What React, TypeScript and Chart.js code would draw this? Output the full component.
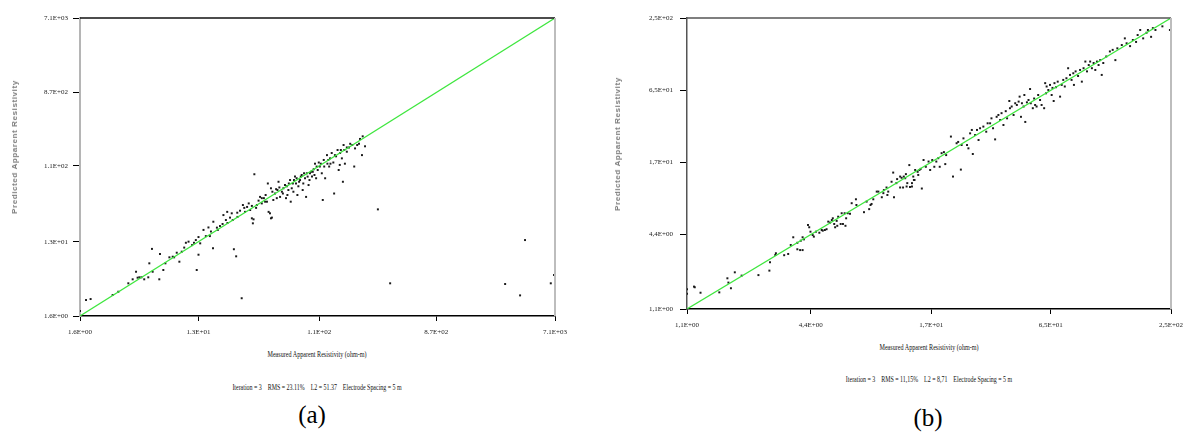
import React, { useEffect, useRef } from "react";
import { Chart, registerables } from "chart.js";
Chart.register(...registerables);

// ---------- Panel (a) ----------
const measuredA = [
  1.6, 1.78, 1.93, 2.85, 3.15, 3.76, 4.06, 4.31, 4.43, 4.57,
  4.74, 4.98, 5.35, 5.45, 5.71, 5.78, 6.5, 6.58, 6.98, 7.24,
  7.77, 8.24, 8.45, 8.85, 9.27, 9.67, 10.1, 10.4, 10.9, 12.6,
  13.0, 27.9,
  11.6, 12.4, 13.0, 12.0, 14.2, 14.8, 15.5, 16.2, 16.9, 16.8,
  18.0, 19.0, 19.9, 20.2, 21.1, 21.6, 22.7, 23.4, 24.3, 25.3,
  25.8, 27.1, 28.5, 29.2, 30.7, 31.6, 32.4, 33.4, 34.0, 34.4,
  34.9, 36.5, 37.6, 38.6, 39.8, 41.3, 42.6, 43.6, 44.3, 44.9,
  46.0, 46.8, 47.6, 48.8, 50.3, 51.9, 52.5, 53.5, 55.0, 56.8,
  58.3, 60.0, 61.1, 62.6, 64.2, 65.6, 66.4, 67.6, 69.6, 71.6,
  72.9, 74.7, 76, 78.3, 80.6, 82, 82.9, 85.5, 87.1, 88.2,
  91, 92.5, 95, 96.7, 99.6, 102, 104, 107, 109, 111,
  115, 117, 119, 122, 126, 127, 131, 133, 137, 141,
  143, 148, 152, 155, 158, 159, 164, 167, 169, 171,
  173, 179, 186, 190, 197, 204, 207, 215, 222, 234,
  237, 310,
  46.8, 48, 51.3, 54.3, 57.8, 61.9, 63.7, 68.9, 70.3, 73.7,
  77, 79.3, 84, 89.5, 93.3, 98, 101, 105, 113, 120,
  129, 134, 145, 161, 179, 39.8, 42.2, 36, 33.4, 29.6,
  25.9, 23.8, 21.7, 18.3, 15.9, 13.4,
  226, 247, 385, 2940, 3830, 4180, 6590, 6980,
];
const predictedA = [
  1.84, 2.51, 2.58, 2.89, 3.17, 4.02, 4.5, 5.57, 4.71, 4.76,
  4.76, 4.5, 4.76, 7.06, 10.6, 5.57, 4.5, 9.18, 5.85, 7.06,
  8.36, 8.51, 8.36, 9.52, 7.39, 9.8, 11.0, 12.6, 13.0, 5.85,
  9.0, 2.64,
  11.8, 13.6, 14.8, 12.6, 18.1, 15.2, 19.4, 17.3, 22.8, 10.8,
  19.3, 20.2, 21.4, 27.5, 23.9, 30.1, 25.6, 28.9, 10.5, 8.6,
  29.4, 31.1, 36.5, 33.7, 34.6, 38.2, 31.7, 25.1, 21.8, 24.4,
  86.9, 36.5, 41.3, 45.9, 38.2, 44.3, 48.4, 40.1, 67, 30.1,
  28.9, 25.1, 25.6, 42.1, 50.5, 44.3, 55.7, 70.3, 45.9, 53.1,
  58.5, 64.1, 44.3, 48.4, 67, 73.8, 40.1, 58.5, 53.1, 81.3,
  67, 48.4, 61.9, 73.8, 85.1, 55.7, 67, 77.6, 45.9, 89.3,
  64.1, 73.8, 93.1, 81.3, 100, 117, 77.6, 97.9, 121, 108,
  89.3, 42.1, 130, 77.6, 149, 117, 108, 136, 158, 121,
  50.5, 144, 172, 97.9, 113, 158, 136, 70.3, 198, 172,
  117, 164, 185, 205, 198, 108, 180, 198, 205, 149,
  253, 32.3,
  58.5, 53.1, 57.1, 59.9, 50.5, 61.9, 55.7, 67, 73.8, 77.6,
  70.3, 81.3, 89.3, 81.3, 89.3, 93.1, 85.1, 108, 117, 108,
  130, 117, 149, 172, 185, 44.3, 40.1, 33.7, 35.6, 30.1,
  26.1, 23.9, 22.0, 18.1, 15.2, 12.4,
  235, 191, 4.02, 3.94, 2.86, 13.6, 4.02, 5.08,
];
const tickValuesA = [1.6, 13, 110, 870, 7100];
const tickLabelsA = ["1.6E+00", "1.3E+01", "1.1E+02", "8.7E+02", "7.1E+03"];

// ---------- Panel (b) ----------
const measuredB = [
  1.1, 1.1, 1.2, 1.19, 1.28, 1.58, 1.73, 1.75, 1.8, 1.88,
  2.03, 2.45, 2.79, 2.77, 2.98, 2.96, 3.27, 3.42, 3.52, 3.62,
  3.79, 3.79, 3.91, 4.02, 3.94, 4.02, 4.08, 4.27, 4.33, 4.39,
  4.5, 4.56, 4.67, 4.85, 4.98, 5.04, 5.16, 5.26, 5.36, 5.47,
  5.58, 5.64, 5.73, 5.79, 5.89, 5.93, 5.99, 6.16, 6.23, 6.32,
  6.44, 6.5, 6.55, 6.67, 6.84, 6.97, 7.31, 7.35, 8.0, 8.24,
  8.48, 8.61, 8.71, 8.88, 9.23, 9.4, 9.77, 9.94, 10.0, 10.3,
  10.4, 10.5, 10.9, 11.1, 11.2, 11.5, 11.6, 12.0, 12.0, 12.4,
  12.5, 12.8, 13.0, 13.3, 13.4, 13.7, 13.9, 14.1, 14.6, 14.9,
  12.2, 12.7, 12.9, 13.7, 14.2, 14.0, 14.7, 15.1, 15.3, 15.6,
  16.0, 16.5, 16.8, 17.2, 17.6, 18.0, 18.4, 18.7, 19.1, 19.6,
  19.9, 20.1, 21.2, 21.7, 22.6, 23.0, 23.7, 23.9, 24.4, 25.4,
  25.8, 26.3, 26.8, 27.1, 27.8, 28.4, 28.9, 29.4, 30.5, 31.5,
  32.0, 32.9, 33.4, 34.0, 34.8, 35.4, 36.1, 36.8, 37.4, 38.2,
  39.2, 39.8, 40.8, 41.1, 41.9, 42.8, 43.6, 44.4, 45.3, 45.8,
  46.5, 47.0, 47.9, 48.3, 48.8, 49.7, 50.6, 51.5, 51.9, 53.1,
  53.9, 54.5, 55.4, 56.4, 57.6, 58.6, 60.3, 61.0, 61.6, 62.0,
  63.2, 64.4, 65.6, 66.2, 67.1, 67.7, 68.9, 70.2, 72.1, 73.4,
  74.7, 76.0, 77.4, 78.9, 80.6, 82.0, 83.6, 84.2, 85.8, 88.2,
  90.2, 92.0, 93.8, 95.7, 97.5, 99.4, 101, 103, 105, 107,
  109, 111, 113, 115, 117, 121, 126, 130, 134, 137,
  144, 149, 152, 158, 163, 169, 172, 177, 183, 190,
  193, 200, 204, 210, 227, 247,
];
const predictedB = [
  1.46, 1.59, 1.65, 1.67, 1.49, 1.5, 1.95, 1.8, 1.62, 2.18,
  2.05, 2.07, 2.63, 2.25, 3.11, 3.01, 3.0, 3.07, 3.63, 4.19,
  3.78, 3.35, 3.3, 3.3, 3.93, 4.19, 4.03, 5.27, 5.05, 4.65,
  4.37, 4.24, 4.65, 4.56, 4.8, 4.74, 4.8, 4.87, 5.61, 5.51,
  5.78, 5.97, 5.37, 5.05, 5.69, 5.19, 6.15, 5.37, 6.56, 5.37,
  6.56, 5.19, 5.97, 6.56, 6.5, 7.91, 8.51, 7.65, 6.69, 8.15,
  7.08, 7.65, 7.8, 8.51, 9.82, 9.82, 8.84, 9.54, 10.1, 10.6,
  9.22, 9.82, 11.8, 14.0, 8.84, 11.5, 12.4, 10.6, 13.0, 10.6,
  13.0, 13.6, 11.5, 16.1, 10.7, 11.5, 13.0, 12.2, 14.2, 14.7,
  12.7, 12.6, 10.8, 10.8, 14.7, 12.2, 13.4, 15.0, 10.4, 17.7,
  15.6, 17.2, 14.7, 17.7, 15.6, 17.2, 18.3, 15.6, 20.1, 20.5,
  16.4, 19.4, 27.4, 13.0, 24.2, 24.8, 14.8, 23.4, 26.5, 23.4,
  22.0, 29.1, 31.0, 19.8, 28.2, 31.0, 25.7, 32.0, 33.0, 30.0,
  35.1, 35.1, 38.5, 32.0, 26.0, 39.6, 41.0, 37.3, 42.4, 34.0,
  44.0, 38.5, 53.2, 46.5, 48.0, 41.0, 51.0, 49.4, 52.6, 57.7,
  39.6, 51.0, 48.0, 59.5, 36.0, 51.9, 54.2, 66.5, 51.0, 46.5,
  55.7, 49.4, 48.0, 59.5, 54.2, 49.4, 46.5, 74.2, 61.4, 69.7,
  65.3, 71.8, 59.5, 67.9, 53.2, 74.2, 68.8, 76.3, 57.7, 71.8,
  78.8, 69.7, 81.3, 98, 86.5, 78.8, 89.2, 71.8, 92.4, 84.8,
  94.9, 76.3, 98, 111, 92.4, 104, 111, 98, 108, 94.9,
  111, 104, 114, 86.5, 108, 122, 134, 138, 114, 142,
  151, 171, 156, 148, 166, 160, 182, 200, 171, 190,
  200, 176, 207, 200, 214, 200,
];
const tickValuesB = [1.1, 4.4, 17, 65, 250];
const tickLabelsB = ["1,1E+00", "4,4E+00", "1,7E+01", "6,5E+01", "2,5E+02"];

const yTitle = "Predicted Apparent Resistivity";
const xTitle = "Measured Apparent Resistivity (ohm-m)";
const infoA = "Iteration = 3    RMS = 23.11%    L2 = 51.37    Electrode Spacing = 5 m";
const infoB = "Iteration = 3    RMS = 11,15%    L2 = 8,71    Electrode Spacing = 5 m";

type PanelCfg = {
  left: number;
  width: number;
  height: number;
  padTop: number;
  padRight: number;
  yAxisW: number;
  xAxisH: number;
  min: number;
  max: number;
  measured: number[];
  predicted: number[];
  tickValues: number[];
  tickLabels: string[];
  leftColor: string;
  leftWidth: number;
  topColor: string;
  yPad: number;
};

function Panel({ cfg }: { cfg: PanelCfg }) {
  const ref = useRef<HTMLCanvasElement>(null);
  useEffect(() => {
    const frame = {
      id: "frame",
      afterDraw(chart: any) {
        const { ctx, chartArea } = chart;
        const { left, top, right, bottom } = chartArea;
        ctx.save();
        ctx.strokeStyle = cfg.topColor;
        ctx.lineWidth = 1.5;
        ctx.beginPath();
        ctx.moveTo(left, top);
        ctx.lineTo(right, top);
        ctx.stroke();
        ctx.strokeStyle = "#bdbdbd";
        ctx.lineWidth = 2;
        ctx.beginPath();
        ctx.moveTo(right, top);
        ctx.lineTo(right, bottom);
        ctx.stroke();
        ctx.restore();
      },
    };
    const tickFont = { family: "'Liberation Serif', serif", size: 7 };
    const chart = new Chart(ref.current as HTMLCanvasElement, {
      type: "scatter",
      data: {
        datasets: [
          {
            data: [
              { x: cfg.min, y: cfg.min },
              { x: cfg.max, y: cfg.max },
            ],
            showLine: true,
            borderColor: "#3ee63e",
            borderWidth: 1.2,
            pointRadius: 0,
          },
          {
            data: cfg.measured.map((m, i) => ({ x: m, y: cfg.predicted[i] })),
            pointStyle: "rect",
            pointRadius: 1.4,
            backgroundColor: "#1a1a1a",
            borderWidth: 0,
          },
        ],
      },
      options: {
        responsive: false,
        animation: false,
        events: [],
        plugins: { legend: { display: false }, tooltip: { enabled: false } },
        layout: { padding: { top: cfg.padTop, right: cfg.padRight, left: 0, bottom: 0 } },
        scales: {
          x: {
            type: "logarithmic",
            min: cfg.min,
            max: cfg.max,
            afterFit: (s: any) => {
              s.height = cfg.xAxisH;
            },
            afterBuildTicks: (s: any) => {
              s.ticks = cfg.tickValues.map((v) => ({ value: v }));
            },
            ticks: {
              callback: (_v: any, i: number) => cfg.tickLabels[i],
              autoSkip: false,
              maxRotation: 0,
              padding: 7,
              font: tickFont,
              color: "#222",
            },
            grid: { drawOnChartArea: false, tickLength: 5, color: "#000", lineWidth: 1 },
            border: { color: "#000", width: 1.5 },
          },
          y: {
            type: "logarithmic",
            min: cfg.min,
            max: cfg.max,
            afterFit: (s: any) => {
              s.width = cfg.yAxisW;
            },
            afterBuildTicks: (s: any) => {
              s.ticks = cfg.tickValues.map((v) => ({ value: v }));
            },
            ticks: {
              callback: (_v: any, i: number) => cfg.tickLabels[i],
              autoSkip: false,
              padding: cfg.yPad,
              font: tickFont,
              color: "#222",
            },
            grid: { drawOnChartArea: false, tickLength: 7, color: "#000", lineWidth: 1 },
            border: { color: cfg.leftColor, width: cfg.leftWidth },
          },
        },
      } as any,
      plugins: [frame],
    });
    return () => chart.destroy();
  }, []);
  return (
    <canvas
      ref={ref}
      width={cfg.width}
      height={cfg.height}
      style={{ position: "absolute", left: cfg.left, top: 0, width: cfg.width, height: cfg.height }}
    />
  );
}

function Txt({
  x,
  y,
  text,
  size,
  sx = 1,
  rotate = false,
  color = "#111",
  family = "'Liberation Serif', serif",
  weight = 400,
  spacing = 0,
}: any) {
  return (
    <div
      style={{
        position: "absolute",
        left: x,
        top: y,
        transform: `translate(-50%,-50%) ${rotate ? "rotate(-90deg)" : ""} scaleX(${sx})`,
        whiteSpace: "pre",
        fontFamily: family,
        fontSize: size,
        fontWeight: weight,
        letterSpacing: spacing,
        lineHeight: 1,
        color,
      }}
    >
      {text}
    </div>
  );
}

const cfgA: PanelCfg = {
  left: 0,
  width: 590,
  height: 345,
  padTop: 18,
  padRight: 35,
  yAxisW: 80,
  xAxisH: 29,
  min: 1.6,
  max: 7100,
  measured: measuredA,
  predicted: predictedA,
  tickValues: tickValuesA,
  tickLabels: tickLabelsA,
  leftColor: "#b5b5b5",
  leftWidth: 2,
  topColor: "#111",
  yPad: 5,
};

const cfgB: PanelCfg = {
  left: 600,
  width: 620,
  height: 340,
  padTop: 18,
  padRight: 49,
  yAxisW: 87,
  xAxisH: 31,
  min: 1.1,
  max: 250,
  measured: measuredB,
  predicted: predictedB,
  tickValues: tickValuesB,
  tickLabels: tickLabelsB,
  leftColor: "#555",
  leftWidth: 1.5,
  topColor: "#555",
  yPad: 7,
};

export default function App() {
  return (
    <div style={{ position: "fixed", left: 0, top: 0, width: 1183, height: 435, background: "#fff", overflow: "hidden" }}>
      <Panel cfg={cfgA} />
      <Panel cfg={cfgB} />
      <Txt x={15} y={147} text={yTitle} size={8} rotate color="#7d7d7d" family="'Liberation Sans', sans-serif" weight={700} spacing={0.6} />
      <Txt x={618} y={144} text={yTitle} size={8} rotate color="#7d7d7d" family="'Liberation Sans', sans-serif" weight={700} spacing={0.6} />
      <Txt x={317} y={354} text={xTitle} size={9} sx={0.68} />
      <Txt x={929} y={347} text={xTitle} size={9} sx={0.68} />
      <Txt x={317} y={387} text={infoA} size={9} sx={0.66} />
      <Txt x={929} y={379} text={infoB} size={9} sx={0.66} />
      <Txt x={312} y={414} text="(a)" size={25} color="#000" family="'Liberation Serif', 'Times New Roman', serif" />
      <Txt x={928} y={417} text="(b)" size={25} color="#000" family="'Liberation Serif', 'Times New Roman', serif" />
    </div>
  );
}
